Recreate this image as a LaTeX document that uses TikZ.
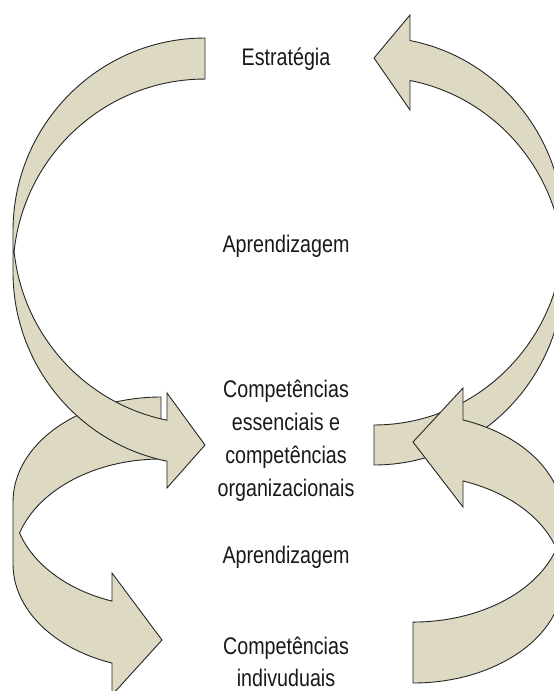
\documentclass[tikz,border=0pt]{standalone}
\usepackage{fontspec}
\setmainfont{Liberation Sans}[FakeStretch=0.82]
\usepackage{tikz}
\definecolor{sand}{RGB}{221,217,195}

\begin{document}
\begin{tikzpicture}[x=1pt,y=1pt,yscale=-1,
		ribbon/.style={fill=sand, draw=black!85, line width=0.9pt},
		stage/.style={align=center, font=\fontsize{24}{32}\selectfont, text=black!90, inner sep=0pt}]
		\useasboundingbox (0,0) rectangle (554,691);
		\clip (0,0) rectangle (554,691);

		\node[stage, anchor=base] (estrategia) at (286,65) {Estratégia};
		\node[stage, anchor=base] (aprendTop) at (286,252) {Aprendizagem};
		\node[stage, anchor=base, font=\fontsize{24}{33}\selectfont] (compOrg) at (286,496) {Competências\\essenciais e\\competências\\organizacionais};
		\node[stage, anchor=base] (aprendBot) at (286,563) {Aprendizagem};
		\node[stage, anchor=base] (compInd) at (286,686) {Competências\\indivuduais};

		% lower left: individual -> organizational
		\draw[ribbon] (161,397)
			arc[start angle=270, end angle=180, x radius=148, y radius=105]
			-- (13,564)
			arc[start angle=180, end angle=109.33, x radius=148, y radius=105]
			-- (112,695) -- (162,640) -- (112,573) -- (112,601.1)
			arc[start angle=109.33, end angle=162.83, x radius=148, y radius=105]
			arc[start angle=197.17, end angle=270, x radius=148, y radius=105]
			-- cycle;

		% upper left: strategy -> organizational
		\draw[ribbon] (205,38)
			arc[start angle=270, end angle=180, x radius=192, y radius=193]
			-- (13,272)
			arc[start angle=180, end angle=101.42, x radius=192, y radius=193]
			-- (167,488) -- (205,445) -- (167,393) -- (167,420.2)
			arc[start angle=101.42, end angle=173.9, x radius=192, y radius=193]
			arc[start angle=186.1, end angle=270, x radius=192, y radius=193]
			-- cycle;

		% upper right: organizational -> strategy
		\draw[ribbon] (374,465)
			arc[start angle=90, end angle=0, x radius=190, y radius=194]
			-- (564,231)
			arc[start angle=360, end angle=280.92, x radius=190, y radius=194]
			-- (410,15) -- (374,58) -- (410,110) -- (410,80.5)
			arc[start angle=280.92, end angle=354.08, x radius=190, y radius=194]
			arc[start angle=5.92, end angle=90, x radius=190, y radius=194]
			-- cycle;

		% lower right: individual -> organizational
		\draw[ribbon] (413,683)
			arc[start angle=90, end angle=0, x radius=150, y radius=104]
			-- (563,518)
			arc[start angle=360, end angle=289.47, x radius=150, y radius=104]
			-- (463,388) -- (413,442) -- (463,507) -- (463,481)
			arc[start angle=289.47, end angle=342.95, x radius=150, y radius=104]
			arc[start angle=17.05, end angle=90, x radius=150, y radius=104]
			-- cycle;
	\end{tikzpicture}
\end{document}
